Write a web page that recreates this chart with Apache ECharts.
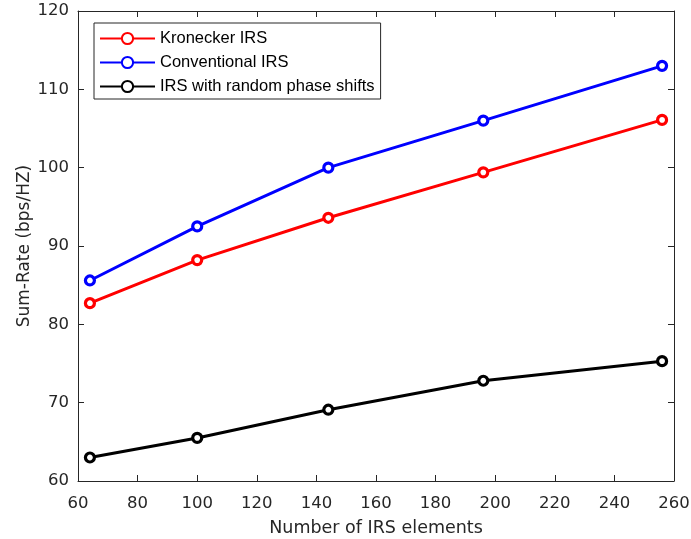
<!DOCTYPE html>
<html><head><meta charset="utf-8">
<script src="https://cdn.jsdelivr.net/npm/echarts@6/dist/echarts.min.js"></script>
<style>html,body{margin:0;padding:0;background:#fff}#c{width:691px;height:539px}</style>
</head><body><div id="c"></div>
<script>
const xValues = [64, 100, 144, 196, 256];
const kronecker = [82.7, 88.2, 93.6, 99.4, 106.1];
const conventional = [85.6, 92.5, 100.0, 106.0, 113.0];
const randomPhase = [63.0, 65.5, 69.1, 72.8, 75.3];
const seriesNames = ['Kronecker IRS', 'Conventional IRS', 'IRS with random phase shifts'];
const seriesColors = ['#ff0000', '#0000ff', '#000000'];

const chart = echarts.init(document.getElementById('c'), null, {renderer: 'canvas'});
const font = 'Liberation Sans, Arial, Helvetica, sans-serif';
const wideFont = 'DejaVu Sans, Liberation Sans, sans-serif';
const axisCol = '#262626';
const pairs = arr => xValues.map((x, i) => [x, arr[i]]);
const mk = (name, data, color) => ({
  name, type: 'line', data: pairs(data),
  symbol: 'circle', symbolSize: 9, showSymbol: true,
  lineStyle: {color, width: 3},
  itemStyle: {color: '#fff', borderColor: color, borderWidth: 3.2},
  emphasis: {disabled: true}, z: 3
});
const xCommon = {type: 'value', min: 60, max: 260, interval: 20};
const yCommon = {type: 'value', min: 60, max: 120, interval: 10};
chart.setOption({
  animation: false,
  backgroundColor: '#fff',
  grid: {left: 78, right: 17, top: 11, bottom: 58, containLabel: false, outerBoundsMode: 'none'},
  legend: {
    left: 94, top: 23, orient: 'vertical',
    data: seriesNames,
    itemWidth: 55, itemHeight: 14, itemGap: 7,
    padding: [7, 6, 4, 5],
    borderColor: axisCol, borderWidth: 1, backgroundColor: '#fff',
    textStyle: {fontFamily: font, fontSize: 16.5, lineHeight: 16, color: '#000'}
  },
  xAxis: [
    Object.assign({}, xCommon, {
      position: 'bottom',
      name: 'Number of IRS elements', nameLocation: 'middle', nameGap: 38, nameMoveOverlap: false,
      nameTextStyle: {fontFamily: wideFont, fontSize: 17.5, color: axisCol},
      axisLine: {show: true, lineStyle: {color: axisCol, width: 1}},
      axisTick: {show: true, inside: true, length: 6, lineStyle: {color: axisCol}},
      axisLabel: {fontFamily: wideFont, fontSize: 16.5, color: axisCol, margin: 14},
      splitLine: {show: false}
    }),
    Object.assign({}, xCommon, {
      position: 'top',
      axisLine: {show: true, lineStyle: {color: axisCol, width: 1}},
      axisTick: {show: true, inside: true, length: 6, lineStyle: {color: axisCol}},
      axisLabel: {show: false}, splitLine: {show: false}
    })
  ],
  yAxis: [
    Object.assign({}, yCommon, {
      position: 'left',
      name: 'Sum-Rate (bps/HZ)', nameLocation: 'middle', nameGap: 45, nameMoveOverlap: false,
      nameTextStyle: {fontFamily: wideFont, fontSize: 17, color: axisCol},
      axisLine: {show: true, lineStyle: {color: axisCol, width: 1}},
      axisTick: {show: true, inside: true, length: 6, lineStyle: {color: axisCol}},
      axisLabel: {fontFamily: wideFont, fontSize: 16.5, color: axisCol, margin: 9},
      splitLine: {show: false}
    }),
    Object.assign({}, yCommon, {
      position: 'right',
      axisLine: {show: true, lineStyle: {color: axisCol, width: 1}},
      axisTick: {show: true, inside: true, length: 6, lineStyle: {color: axisCol}},
      axisLabel: {show: false}, splitLine: {show: false}
    })
  ],
  series: [
    mk(seriesNames[0], kronecker, seriesColors[0]),
    mk(seriesNames[1], conventional, seriesColors[1]),
    mk(seriesNames[2], randomPhase, seriesColors[2])
  ]
});
</script></body></html>
